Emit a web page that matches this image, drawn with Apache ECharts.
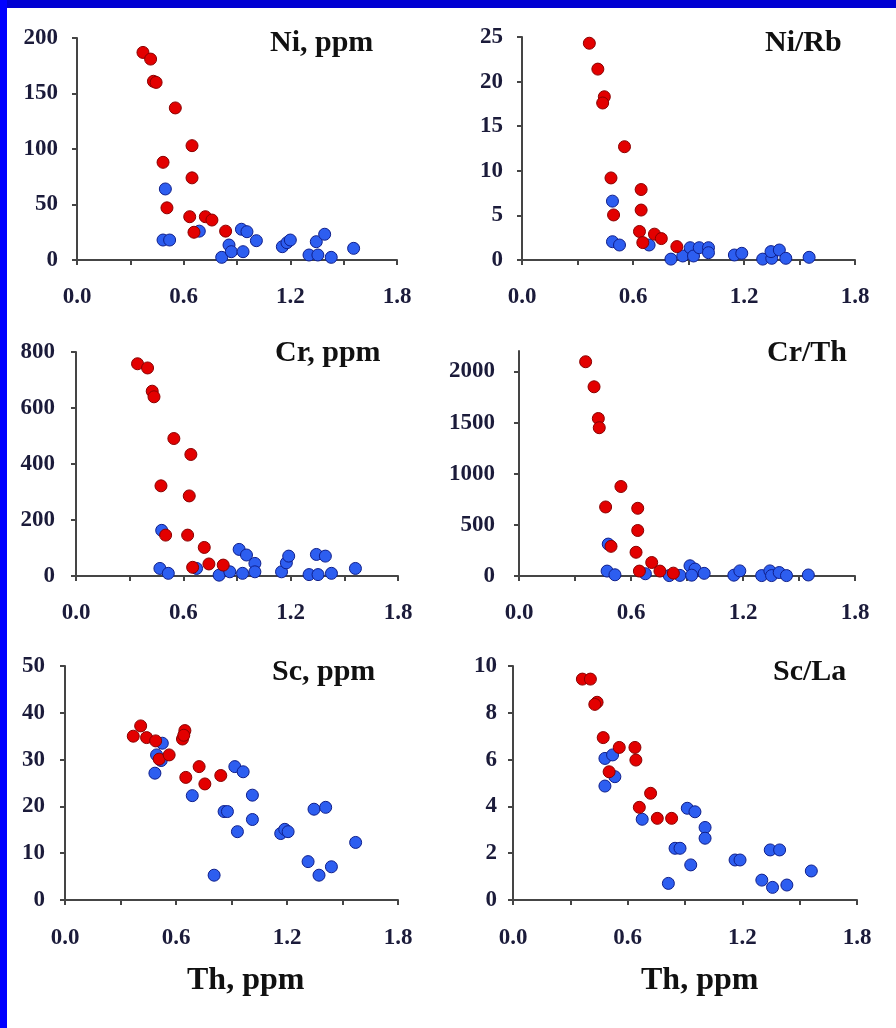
<!DOCTYPE html>
<html>
<head>
<meta charset="utf-8">
<script src="https://cdn.jsdelivr.net/npm/echarts@6/dist/echarts.min.js"></script>
<style>
  html, body { margin: 0; padding: 0; background: #fff; }
  #chart { position: absolute; left: 0; top: 0; width: 896px; height: 1028px; }
  .band-top { position: absolute; left: 0; top: 0; width: 896px; height: 8px; background: #0000d2; }
  .band-left { position: absolute; left: 0; top: 0; width: 7px; height: 1028px; background: #0000ff; }
</style>
</head>
<body>
<div id="chart"></div>
<div class="band-top"></div>
<div class="band-left"></div>
<script>
// Th (ppm) on x, element / ratio on y; red = one group, blue = the other
const niRed = [[0.371, 187], [0.414, 181], [0.43, 161], [0.445, 160], [0.553, 137], [0.647, 103],
  [0.484, 88], [0.647, 74], [0.506, 47], [0.634, 39], [0.722, 39], [0.759, 36], [0.658, 25], [0.836, 26]]
const niBlue = [[0.497, 64], [0.484, 18], [0.521, 18], [0.688, 26], [0.814, 2.4], [0.855, 13.5],
  [0.868, 7.5], [0.925, 27.7], [0.956, 25.5], [0.934, 7.5], [1.009, 17.4], [1.155, 12], [1.181, 15.6],
  [1.2, 18], [1.305, 4.5], [1.355, 4.5], [1.346, 16.5], [1.393, 23.2], [1.43, 2.4], [1.556, 10.5]]

const niRbRed = [[0.364, 24.3], [0.41, 21.4], [0.445, 18.3], [0.436, 17.6], [0.554, 12.7], [0.481, 9.2],
  [0.644, 7.9], [0.495, 5.05], [0.644, 5.6], [0.635, 3.2], [0.716, 2.9], [0.753, 2.4], [0.653, 1.95], [0.837, 1.5]]
const niRbBlue = [[0.489, 6.6], [0.489, 2.05], [0.527, 1.68], [0.687, 1.68], [0.805, 0.1], [0.869, 0.45],
  [0.909, 1.38], [0.927, 0.45], [0.958, 1.38], [1.008, 1.38], [1.008, 0.82], [1.148, 0.56], [1.188, 0.75],
  [1.301, 0.1], [1.35, 0.19], [1.346, 0.94], [1.391, 1.12], [1.426, 0.19], [1.552, 0.3]]

const crRed = [[0.344, 758], [0.4, 743], [0.426, 660], [0.436, 640], [0.547, 491], [0.642, 434],
  [0.475, 322], [0.633, 286], [0.501, 146], [0.624, 146], [0.717, 102], [0.743, 43], [0.652, 31], [0.823, 39]]
const crBlue = [[0.479, 163], [0.469, 27], [0.516, 9.5], [0.674, 27], [0.8, 3], [0.86, 15], [0.912, 95],
  [0.953, 75], [1.0, 45], [1.0, 15], [0.931, 9.5], [1.149, 15], [1.176, 47], [1.189, 71], [1.303, 5],
  [1.353, 5], [1.344, 77], [1.394, 71], [1.428, 9.5], [1.562, 27]]

const crThRed = [[0.357, 2095], [0.402, 1850], [0.425, 1540], [0.43, 1450], [0.546, 875], [0.464, 675],
  [0.636, 662], [0.636, 445], [0.627, 232], [0.493, 290], [0.711, 132], [0.755, 48], [0.645, 48], [0.827, 28]]
const crThBlue = [[0.478, 312], [0.472, 48], [0.514, 12], [0.677, 22], [0.805, 4], [0.862, 6], [0.916, 100],
  [0.943, 68], [0.925, 8], [0.992, 26], [1.151, 8], [1.183, 50], [1.3, 4], [1.344, 50], [1.353, 4],
  [1.394, 34], [1.433, 4], [1.55, 10]]

const scRed = [[0.369, 35.0], [0.409, 37.2], [0.441, 34.7], [0.49, 34.0], [0.509, 30.1], [0.563, 31.0],
  [0.648, 36.2], [0.635, 34.4], [0.642, 35.2], [0.653, 26.2], [0.725, 28.5], [0.756, 24.8], [0.842, 26.6]]
const scBlue = [[0.526, 33.5], [0.495, 31.0], [0.52, 29.8], [0.486, 27.1], [0.688, 22.3], [0.806, 5.3],
  [0.86, 18.9], [0.878, 18.9], [0.932, 14.6], [0.918, 28.5], [0.963, 27.4], [1.013, 22.4], [1.013, 17.2],
  [1.166, 14.2], [1.188, 15.1], [1.206, 14.6], [1.314, 8.2], [1.346, 19.4], [1.409, 19.8], [1.373, 5.3],
  [1.44, 7.1], [1.571, 12.3]]

const scLaRed = [[0.363, 9.44], [0.405, 9.44], [0.44, 8.45], [0.428, 8.36], [0.472, 6.94], [0.556, 6.52],
  [0.638, 6.52], [0.643, 5.98], [0.503, 5.48], [0.72, 4.56], [0.661, 3.96], [0.755, 3.49], [0.83, 3.49]]
const scLaBlue = [[0.481, 6.05], [0.521, 6.2], [0.533, 5.27], [0.481, 4.87], [0.676, 3.45], [0.813, 0.71],
  [0.848, 2.21], [0.874, 2.21], [0.912, 3.92], [0.952, 3.77], [0.93, 1.5], [1.005, 3.1], [1.005, 2.64],
  [1.162, 1.71], [1.188, 1.71], [1.302, 0.85], [1.346, 2.14], [1.395, 2.14], [1.358, 0.54], [1.433, 0.64],
  [1.561, 1.24]]

const panelTitles = ['Ni, ppm', 'Ni/Rb', 'Cr, ppm', 'Cr/Th', 'Sc, ppm', 'Sc/La']
const redSets = [niRed, niRbRed, crRed, crThRed, scRed, scLaRed]
const blueSets = [niBlue, niRbBlue, crBlue, crThBlue, scBlue, scLaBlue]
const yMax = [200, 25, 800, 2200, 50, 10]
const yStep = [50, 5, 200, 500, 10, 2]
const thLabels = [0, 0.6, 1.2, 1.8]
const xTitle = 'Th, ppm'

// panel layout in page pixels
const grids = [
  { left: 77, top: 38, width: 320, height: 222 },
  { left: 522, top: 37, width: 333, height: 223 },
  { left: 76, top: 352, width: 322, height: 224 },
  { left: 519, top: 351, width: 336, height: 225 },
  { left: 65, top: 666, width: 333, height: 234 },
  { left: 513, top: 666, width: 344, height: 234 },
]
const titlePos = [[270, 28], [765, 28], [275, 338], [767, 338], [272, 657], [773, 657]]
const yLabelMargin = [19, 19, 21, 24, 20, 16]

const serif = '"Liberation Serif", "DejaVu Serif", serif'
const labelColor = '#1b1b3a'
const axisColor = '#454545'

const chart = echarts.init(document.getElementById('chart'))

const yTickValues = (i) => {
  const out = []
  for (let v = 0; v <= yMax[i]; v += yStep[i]) out.push(v)
  return out
}

const option = {
  backgroundColor: '#fff',
  animation: false,
  title: panelTitles.map((t, i) => ({
    text: t,
    left: titlePos[i][0],
    top: titlePos[i][1],
    padding: 0,
    textStyle: { fontFamily: serif, fontWeight: 'bold', fontSize: 30, color: '#111' },
  })).concat([
    { text: xTitle, left: 187, top: 965, padding: 0,
      textStyle: { fontFamily: serif, fontWeight: 'bold', fontSize: 32, color: '#111' } },
    { text: xTitle, left: 641, top: 965, padding: 0,
      textStyle: { fontFamily: serif, fontWeight: 'bold', fontSize: 32, color: '#111' } },
  ]),
  grid: grids.map((g) => ({ ...g, containLabel: false, outerBoundsMode: 'none' })),
  xAxis: grids.map((g, i) => ({
    type: 'value',
    gridIndex: i,
    min: 0,
    max: 1.8,
    interval: 0.3,
    splitLine: { show: false },
    axisLine: { show: true, onZero: false, lineStyle: { color: axisColor, width: 2 } },
    axisTick: { show: true, length: 5, lineStyle: { color: axisColor, width: 2 } },
    axisLabel: {
      customValues: thLabels,
      formatter: (v) => v.toFixed(1),
      margin: i >= 4 ? 27 : 26,
      fontFamily: serif,
      fontWeight: 'bold',
      fontSize: 23,
      color: labelColor,
    },
  })),
  yAxis: grids.map((g, i) => ({
    type: 'value',
    gridIndex: i,
    min: 0,
    max: yMax[i],
    interval: yStep[i],
    splitLine: { show: false },
    axisLine: { show: true, onZero: false, lineStyle: { color: axisColor, width: 2 } },
    axisTick: { show: true, length: 5, customValues: yTickValues(i), lineStyle: { color: axisColor, width: 2 } },
    axisLabel: {
      customValues: yTickValues(i),
      formatter: (v) => String(v),
      margin: yLabelMargin[i],
      fontFamily: serif,
      fontWeight: 'bold',
      fontSize: 23,
      color: labelColor,
    },
  })),
  series: [],
}

// blue first so the red points sit on top
blueSets.forEach((d, i) => {
  option.series.push({
    type: 'scatter', xAxisIndex: i, yAxisIndex: i, data: d, symbolSize: 12,
    itemStyle: { color: '#2d5ef0', borderColor: '#0f1f8c', borderWidth: 1, opacity: 1 },
  })
})
redSets.forEach((d, i) => {
  option.series.push({
    type: 'scatter', xAxisIndex: i, yAxisIndex: i, data: d, symbolSize: 12,
    itemStyle: { color: '#e30000', borderColor: '#8a0000', borderWidth: 1, opacity: 1 },
  })
})

chart.setOption(option)
</script>
</body>
</html>
